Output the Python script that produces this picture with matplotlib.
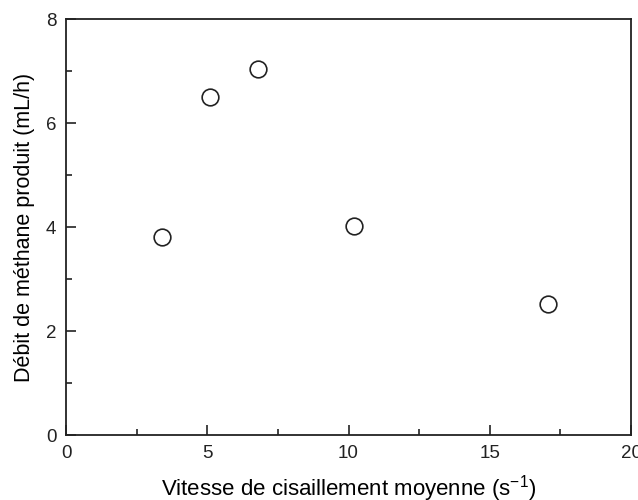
import matplotlib
matplotlib.use("Agg")
import matplotlib.pyplot as plt
from matplotlib.ticker import MultipleLocator

plt.rcParams['font.family'] = ['Liberation Sans', 'DejaVu Sans']
plt.rcParams['mathtext.fontset'] = 'custom'
plt.rcParams['mathtext.rm'] = 'Liberation Sans'

# data
shear_rate = [3.4, 5.1, 6.8, 10.2, 17.05]
methane_flow = [3.8, 6.5, 7.03, 4.01, 2.52]

fig = plt.figure(figsize=(6.38, 5.0), dpi=100)
ax = fig.add_axes([66/638, 1 - 435/500, (631-66)/638, (435-19)/500])

ax.plot(shear_rate, methane_flow, linestyle="", marker="o", markersize=12,
        markerfacecolor="white", markeredgecolor="#222222", markeredgewidth=1.2)

ax.set_xlim(0, 20)
ax.set_ylim(0, 8)
ax.xaxis.set_major_locator(MultipleLocator(5))
ax.xaxis.set_minor_locator(MultipleLocator(2.5))
ax.yaxis.set_major_locator(MultipleLocator(2))
ax.yaxis.set_minor_locator(MultipleLocator(1))
ax.tick_params(which="both", direction="in", top=False, right=False,
               width=1.2, colors="#222222", labelsize=13.5)
ax.tick_params(which="major", length=7, pad=7)
ax.tick_params(which="minor", length=4)
for s in ax.spines.values():
    s.set_linewidth(1.3)
    s.set_color("#222222")

ax.set_xlabel(r"Vitesse de cisaillement moyenne (s$\mathregular{^{-1}}$)",
              fontsize=16, labelpad=8)
ax.set_ylabel("Débit de méthane produit (mL/h)", fontsize=15.5, labelpad=8)

fig.savefig("out.png", dpi=100)
